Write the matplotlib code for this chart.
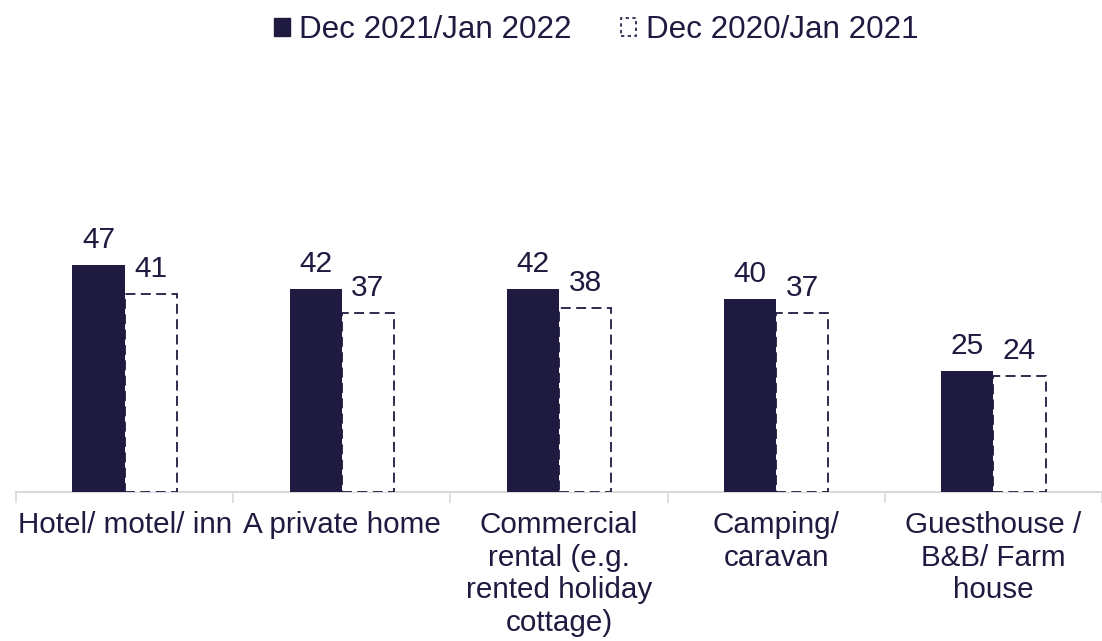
import matplotlib.pyplot as plt
import numpy as np
from matplotlib.patches import Patch

plt.rcParams['font.family'] = ['Liberation Sans', 'DejaVu Sans']

categories = ["Hotel/ motel/ inn", "A private home", "Commercial\nrental (e.g.\nrented holiday\ncottage)",
              "Camping/\ncaravan", "Guesthouse /\nB&B/ Farm\nhouse"]
current = [47, 42, 42, 40, 25]
previous = [41, 37, 38, 37, 24]
series_names = ["Dec 2021/Jan 2022", "Dec 2020/Jan 2021"]

navy = '#1f1a40'
grey = '#d9d9d9'
fs = 21.3

fig = plt.figure(figsize=(11.02, 6.41), dpi=100)
ax = fig.add_axes([16 / 1102, 149 / 641, 1086 / 1102, 290 / 641])

x = np.arange(len(categories))
w = 0.24
b1 = ax.bar(x - w / 2, current, w, color=navy, linewidth=0)
b2 = ax.bar(x + w / 2, previous, w, facecolor='white', edgecolor=navy,
            linestyle=(0, (5.5, 3)), linewidth=1.3)

for bars, vals in [(b1, current), (b2, previous)]:
    for r, v in zip(bars, vals):
        ax.annotate(str(v), (r.get_x() + r.get_width() / 2, r.get_height()),
                    xytext=(0, 8), textcoords='offset points',
                    ha='center', va='bottom', fontsize=21.5, color=navy)

ax.set_xlim(-0.5, 4.47)
ax.set_ylim(0, 60)
ax.set_yticks([])
ax.set_xticks(x)
ax.set_xticklabels(categories, fontsize=fs, color=navy, linespacing=1.2, va='top')
ax.tick_params(axis='x', which='major', length=0, pad=14)
ax.set_xticks(np.arange(-0.5, 5, 1), minor=True)
ax.tick_params(axis='x', which='minor', length=8, width=1.2, color=grey, direction='out')
for s in ['top', 'right', 'left']:
    ax.spines[s].set_visible(False)
ax.spines['bottom'].set_color(grey)
ax.spines['bottom'].set_linewidth(1.5)
ax.spines['bottom'].set_zorder(0)

handles = [Patch(facecolor=navy, edgecolor=navy),
           Patch(facecolor='white', edgecolor=navy, linestyle=(0, (2, 2)), linewidth=1.2)]
fig.legend(handles, series_names, loc='center', bbox_to_anchor=(0.541, 1 - 30 / 641),
           ncol=2, frameon=False, fontsize=22.6, handlelength=0.5, handleheight=0.5,
           handletextpad=0.3, columnspacing=1.55, labelcolor=navy)

fig.savefig('out.png', dpi=100)
